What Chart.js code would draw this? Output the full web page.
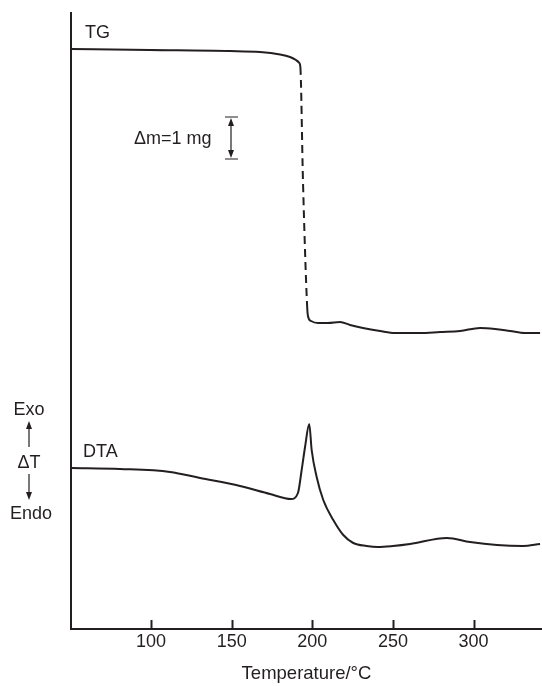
<!DOCTYPE html>
<html>
<head>
<meta charset="utf-8">
<script src="https://cdn.jsdelivr.net/npm/chart.js@4/dist/chart.umd.min.js"></script>
<style>
  html, body { margin: 0; padding: 0; background: #fff; }
  #wrap { width: 542px; height: 686px; }
</style>
</head>
<body>
<div id="wrap"><canvas id="chart"></canvas></div>
<script>
// temperature axis (°C)
const tempTicks = [100, 150, 200, 250, 300];
const tempMin = 50.4;
const tempMax = 342.4;

// TG curve (arbitrary signal units, 0 = bottom axis)
const tgTemp   = [50.4, 99.4, 149.0, 167.6, 180.0, 186.2, 189.9, 192.0, 192.6, 194.2, 196.7, 197.3, 199.2, 203.5, 209.7, 217.2, 223.4, 231.4, 242.0, 251.3, 266.8, 279.2, 291.6, 304.0, 313.3, 322.6, 331.9, 341.2];
const tgSignal = [580, 579, 578, 577, 574.5, 572, 569, 566, 562, 449, 326, 313, 308, 306, 306, 307, 304, 301, 298, 296, 296, 297, 298, 301, 300, 298, 296, 296];

// DTA curve
const dtaTemp   = [50.4, 80.8, 111.8, 130.4, 155.2, 173.8, 186.8, 191.1, 193.4, 195.5, 198.1, 199.6, 202.7, 206.8, 213.0, 219.2, 225.4, 233.7, 240.7, 250.0, 260.6, 283.5, 297.8, 314.5, 330.6, 341.2];
const dtaSignal = [161, 160, 157, 151, 143, 135, 130, 136, 159, 182, 205, 179, 152, 129, 109, 94, 86, 83, 82, 83, 85, 91, 87, 84, 83, 85];

// mass loss region drawn dashed
const dashFrom = 192.5;
const dashTo = 197;

const INK = '#231f20';
const FAMILY = '"Liberation Sans", Arial, sans-serif';
const FONT = '18px ' + FAMILY;

function toPoints(xs, ys) {
  return xs.map((x, i) => ({ x, y: ys[i] }));
}

function arrowHead(ctx, x, y, dir) {
  // dir: -1 points up, 1 points down
  ctx.beginPath();
  ctx.moveTo(x, y);
  ctx.lineTo(x - 3, y - dir * 8);
  ctx.lineTo(x + 3, y - dir * 8);
  ctx.closePath();
  ctx.fill();
}

const decorations = {
  id: 'decorations',
  afterDraw(chart) {
    const { ctx, chartArea } = chart;
    const xs = chart.scales.x;
    ctx.save();
    ctx.strokeStyle = INK;
    ctx.fillStyle = INK;

    // axes
    ctx.lineWidth = 2;
    ctx.beginPath();
    ctx.moveTo(chartArea.left, chartArea.top);
    ctx.lineTo(chartArea.left, chartArea.bottom);
    ctx.lineTo(chartArea.right, chartArea.bottom);
    ctx.stroke();

    // inward tick marks
    tempTicks.forEach(t => {
      const px = Math.round(xs.getPixelForValue(t)) + 0.5;
      ctx.beginPath();
      ctx.moveTo(px, chartArea.bottom);
      ctx.lineTo(px, chartArea.bottom - 9);
      ctx.stroke();
    });

    // curve labels
    ctx.font = FONT;
    ctx.textBaseline = 'middle';
    ctx.textAlign = 'left';
    ctx.fillText('TG', 85, 33);
    ctx.fillText('DTA', 83, 452);
    ctx.fillText('\u0394m=1 mg', 134, 139);

    ctx.textAlign = 'center';
    ctx.fillText('Exo', 29, 410);
    ctx.fillText('\u0394T', 29, 463);
    ctx.fillText('Endo', 31, 514);

    // Exo / Endo arrows
    ctx.lineWidth = 1.2;
    ctx.beginPath();
    ctx.moveTo(29, 447); ctx.lineTo(29, 427);
    ctx.moveTo(29, 474); ctx.lineTo(29, 494);
    ctx.stroke();
    arrowHead(ctx, 29, 421, -1);
    arrowHead(ctx, 29, 500, 1);

    // 1 mg scale bar
    const bx = 231, bTop = 117, bBot = 159;
    ctx.beginPath();
    ctx.moveTo(225, bTop); ctx.lineTo(238, bTop);
    ctx.moveTo(225, bBot); ctx.lineTo(238, bBot);
    ctx.moveTo(bx, bTop + 6); ctx.lineTo(bx, bBot - 6);
    ctx.stroke();
    arrowHead(ctx, bx, bTop + 1, -1);
    arrowHead(ctx, bx, bBot - 1, 1);

    ctx.restore();
  }
};

new Chart(document.getElementById('chart'), {
  type: 'line',
  data: {
    datasets: [
      {
        label: 'TG',
        data: toPoints(tgTemp, tgSignal),
        borderColor: INK,
        borderWidth: 2,
        pointRadius: 0,
        cubicInterpolationMode: 'monotone',
        segment: {
          borderDash: c => (c.p0.parsed.x >= dashFrom && c.p1.parsed.x <= dashTo) ? [8, 5] : undefined,
        },
      },
      {
        label: 'DTA',
        data: toPoints(dtaTemp, dtaSignal),
        borderColor: INK,
        borderWidth: 2,
        pointRadius: 0,
        cubicInterpolationMode: 'monotone',
      },
    ],
  },
  options: {
    responsive: true,
    maintainAspectRatio: false,
    animation: false,
    layout: { padding: { left: 71, top: 12, right: 0, bottom: 0 } },
    plugins: {
      legend: { display: false },
      tooltip: { enabled: false },
    },
    scales: {
      x: {
        type: 'linear',
        min: tempMin,
        max: tempMax,
        afterBuildTicks: s => { s.ticks = tempTicks.map(v => ({ value: v })); },
        afterFit: s => { s.height = 57; },
        grid: { display: false, drawTicks: false },
        border: { display: false },
        ticks: {
          color: INK,
          padding: 2,
          maxRotation: 0,
          font: { family: FAMILY, size: 18 },
        },
        title: {
          display: true,
          text: 'Temperature/°C',
          color: INK,
          padding: { top: 0, bottom: 1 },
          font: { family: FAMILY, size: 18.5 },
        },
      },
      y: {
        display: false,
        min: 0,
        max: 617,
      },
    },
  },
  plugins: [decorations],
});
</script>
</body>
</html>
